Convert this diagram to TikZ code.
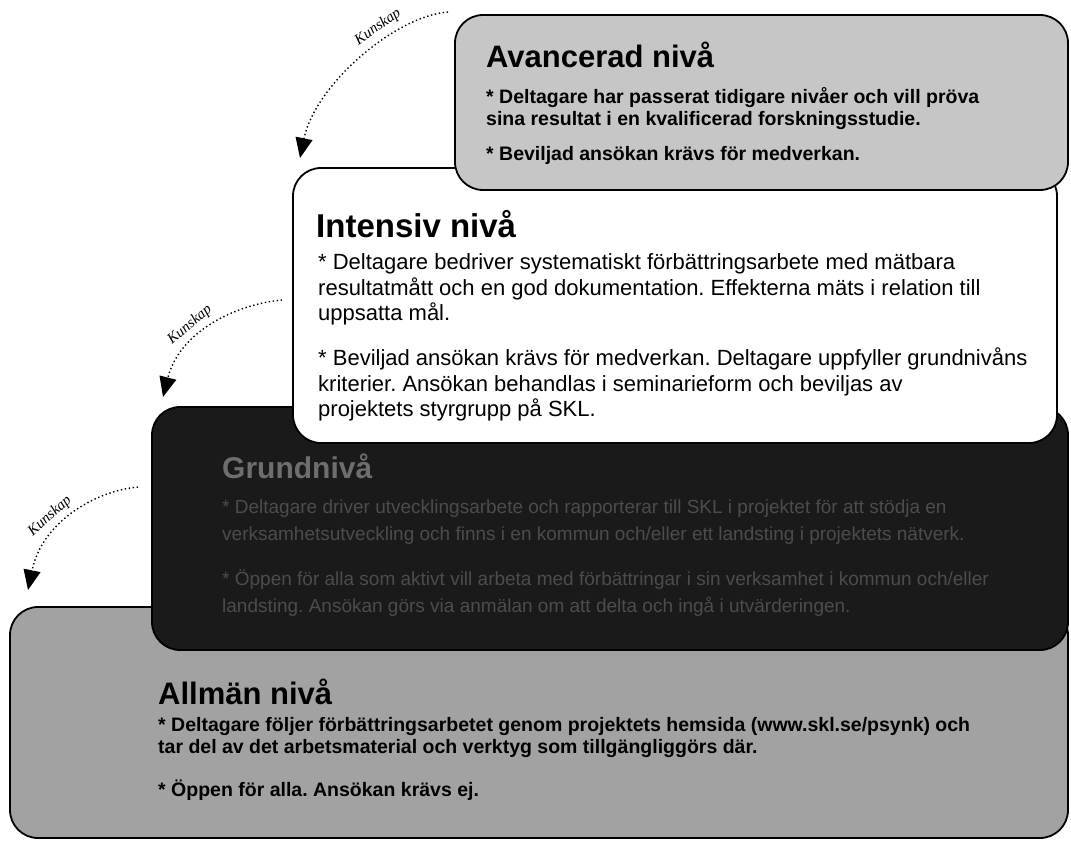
\documentclass[tikz,border=0pt]{standalone}
\usepackage{fontspec}
\setmainfont{Liberation Sans}
\newfontfamily\kfont{Liberation Serif}
\usetikzlibrary{arrows.meta}
\definecolor{advgray}{HTML}{C6C6C6}
\definecolor{allgray}{HTML}{A2A2A2}
\definecolor{darkfill}{HTML}{1A1A1A}
\definecolor{darktext}{HTML}{4C4C4C}
\definecolor{darktitle}{HTML}{6E6E6E}
\frenchspacing
\begin{document}
\begin{tikzpicture}[x=1pt,y=-1pt,
  lvl/.style={draw=black, line width=1.8pt, rounded corners=28pt, inner sep=0pt},
  ttl/.style={anchor=base west, inner sep=0pt, font=\fontsize{31}{36}\selectfont\bfseries},
  txtA/.style={anchor=base west, inner sep=0pt, font=\fontsize{19.5}{21.5}\selectfont\bfseries},
  txtI/.style={anchor=base west, inner sep=0pt, font=\fontsize{22}{25.5}\selectfont},
  txtG/.style={anchor=base west, inner sep=0pt, font=\fontsize{19}{27}\selectfont, text=darktext},
  txtL/.style={anchor=base west, inner sep=0pt, font=\fontsize{19.5}{22.5}\selectfont\bfseries},
  kun/.style={-{Triangle[length=20pt,width=17pt]}, line width=1.4pt, dash pattern=on 1.4pt off 2.6pt},
  klabel/.style={font=\kfont\itshape\fontsize{15}{17}\selectfont, inner sep=0pt}
]
\useasboundingbox (0,0) rectangle (1071,842);
\fill[white] (0,0) rectangle (1071,842);

% level boxes (bottom to top)
\draw[lvl, fill=allgray] (10,607) rectangle (1068,838);
\coordinate (allbox) at (10,607);
\draw[lvl, fill=darkfill] (152,407) rectangle (1068,650);
\coordinate (grundbox) at (152,407);
\draw[lvl, fill=white] (293,168) rectangle (1057,443);
\coordinate (intbox) at (293,168);
\draw[lvl, fill=advgray] (455,15) rectangle (1068,190);
\coordinate (advbox) at (455,15);

% Avancerad
\node[ttl] (advT) at (486,68) {Avancerad nivå};
\node[txtA] (advA) at (486,104) {\vtop{\hbox{* Deltagare har passerat tidigare nivåer och vill pröva}\hbox{sina resultat i en kvalificerad forskningsstudie.}}};
\node[txtA] (advB) at (486,161) {* Beviljad ansökan krävs för medverkan.};

% Intensiv
\node[ttl, font=\fontsize{33}{38}\selectfont\bfseries] (intT) at (316,238) {Intensiv nivå};
\node[txtI] (intA) at (318,270) {\vtop{\hbox{* Deltagare bedriver systematiskt förbättringsarbete med mätbara}\hbox{resultatmått och en god dokumentation. Effekterna mäts i relation till}\hbox{uppsatta mål.}}};
\node[txtI] (intB) at (318,366) {\vtop{\hbox{* Beviljad ansökan krävs för medverkan. Deltagare uppfyller grundnivåns}\hbox{kriterier. Ansökan behandlas i seminarieform och beviljas av}\hbox{projektets styrgrupp på SKL.}}};

% Grundnivå
\node[ttl, font=\fontsize{30}{34}\selectfont\bfseries, text=darktitle] (grT) at (222,478) {Grundnivå};
\node[txtG] (grA) at (222,513) {\vtop{\hbox{* Deltagare driver utvecklingsarbete och rapporterar till SKL i projektet för att stödja en}\hbox{verksamhetsutveckling och finns i en kommun och/eller ett landsting i projektets nätverk.}}};
\node[txtG] (grB) at (222,585) {\vtop{\hbox{* Öppen för alla som aktivt vill arbeta med förbättringar i sin verksamhet i kommun och/eller}\hbox{landsting. Ansökan görs via anmälan om att delta och ingå i utvärderingen.}}};

% Allmän
\node[ttl] (allT) at (158,704) {Allmän nivå};
\node[txtL] (allA) at (158,731) {\vtop{\hbox{* Deltagare följer förbättringsarbetet genom projektets hemsida (www.skl.se/psynk) och}\hbox{tar del av det arbetsmaterial och verktyg som tillgängliggörs där.}}};
\node[txtL] (allB) at (158,796) {* Öppen för alla. Ansökan krävs ej.};

% Kunskap arrows
\coordinate (k1s) at (448,12);
\coordinate (k1e) at (300,158);
\draw[kun] (k1s) .. controls (395,16) and (315,85) .. (k1e);
\node[klabel, rotate=35] (k1l) at (378,27) {Kunskap};

\coordinate (k2s) at (282,300);
\coordinate (k2e) at (163,397);
\draw[kun] (k2s) .. controls (238,304) and (180,330) .. (k2e);
\node[klabel, rotate=40] (k2l) at (190,325) {Kunskap};

\coordinate (k3s) at (138,487);
\coordinate (k3e) at (28,590);
\draw[kun] (k3s) .. controls (95,491) and (42,522) .. (k3e);
\node[klabel, rotate=42] (k3l) at (50,516) {Kunskap};
\end{tikzpicture}
\end{document}
